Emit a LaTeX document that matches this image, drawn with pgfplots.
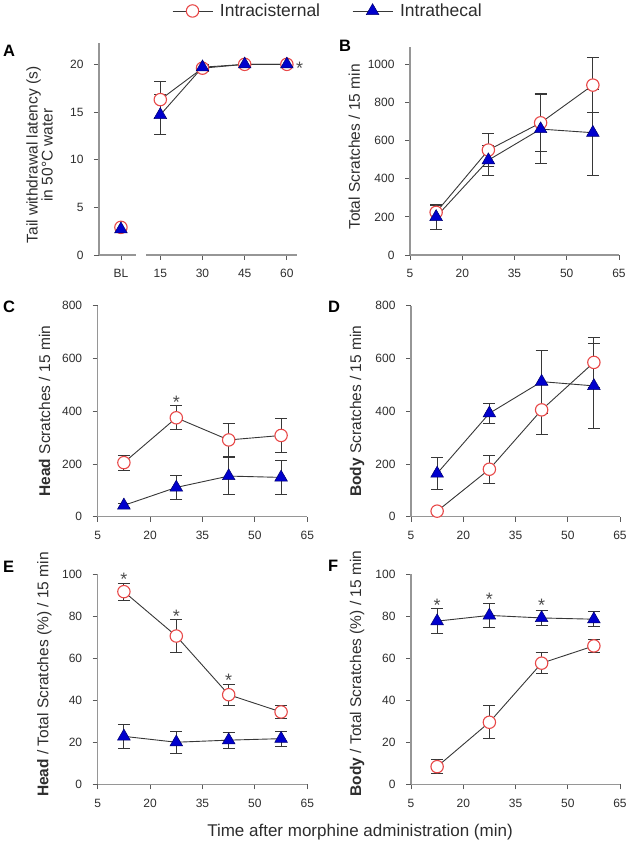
\documentclass[border=0pt]{standalone}
\usepackage{fontspec}
\setmainfont{Liberation Sans}
\usepackage{pgfplots}
\pgfplotsset{compat=1.18}
\definecolor{icred}{RGB}{232,72,72}
\definecolor{itblue}{RGB}{0,0,205}
\definecolor{itedge}{RGB}{0,0,110}
\definecolor{axgray}{RGB}{150,150,150}
\definecolor{tkgray}{RGB}{90,90,90}
\definecolor{txt}{RGB}{45,45,45}
\definecolor{ln}{RGB}{55,55,55}
\tikzset{astr/.style={font=\fontsize{18}{18}\selectfont, text=black!70, yshift=-3.8pt, inner sep=0pt}}
\pgfplotsset{
  panel/.style={
    scale only axis,
    axis lines=left,
    axis line style={-, draw=axgray, line width=1.1pt},
    tick align=outside,
    major tick length=5pt,
    tick style={draw=tkgray, line width=0.8pt},
    clip=false,
    /pgf/number format/assume math mode=true,
    /pgf/number format/1000 sep={},
    tick label style={font=\fontsize{12}{13}\selectfont, text=txt},
    xticklabel style={yshift=-6pt},
    yticklabel style={xshift=-7pt},
    every axis y label/.style={rotate=90, anchor=center, font=\fontsize{15.5}{15}\selectfont, text=txt,
      at={(axis description cs:-0.255,0.5)}},
    xmin=5, xmax=65, xtick={5,20,35,50,65},
    ymin=0,
  },
  errs/.style={
    error bars/y dir=both, error bars/y explicit,
    error bars/error bar style={draw=ln, line width=0.9pt},
    error bars/error mark options={rotate=90, mark size=6pt, draw=ln, line width=0.9pt}},
  icplot/.style={draw=ln, line width=0.9pt, mark=*,
    mark options={draw=icred, fill=white, line width=1.1pt, mark size=6.2pt, solid}, errs},
  itplot/.style={draw=ln, line width=0.9pt, mark=triangle*,
    mark options={draw=itedge, fill=itblue, line width=0.5pt, mark size=7.3pt, solid}, errs},
}
\begin{document}
\begin{tikzpicture}[x=1pt,y=1pt]
\useasboundingbox (0,0) rectangle (629,844);
% ---------- A ----------
\begin{axis}[panel, at={(99pt,589pt)}, anchor=south west, width=198pt, height=212pt,
  xmin=-6.8, xmax=63.6, xtick={1,15,30,45,60}, xticklabels={BL,15,30,45,60},
  ymax=22.24, ytick={0,5,10,15,20},
  x axis line style={draw=none},
  ylabel={Tail withdrawal latency (s)\\in 50°C water},
  ylabel style={align=center, at={(axis description cs:-0.3,0.472)}},
  legend columns=2,
  legend image code/.code={\draw[mark repeat=2,mark phase=2,#1] plot coordinates {(0pt,0pt) (20pt,0pt) (40pt,0pt)};},
  legend style={draw=none, fill=none, at={(axis description cs:0.368,1.151)}, anchor=west,
    font=\fontsize{17.5}{20}\selectfont, text=txt, inner sep=0pt,
    /tikz/every even column/.append style={column sep=30pt},
    /tikz/every odd column/.append style={column sep=5pt}},
]
\draw[axgray, line width=1.1pt] (axis cs:-6.8,0) -- (axis cs:6.4,0);
\draw[axgray, line width=1.1pt] (axis cs:10,0) -- (axis cs:63.6,0);
\addplot[icplot] coordinates {(15,16.3) +- (0,1.9) (30,19.6) +- (0,0.3) (45,20) +- (0,0) (60,20) +- (0,0)};
\addlegendentry{Intracisternal}
\addplot[itplot] coordinates {(15,14.7) +- (0,2.1) (30,19.7) +- (0,0.3) (45,20) +- (0,0) (60,20) +- (0,0)};
\addlegendentry{Intrathecal}
\addplot[icplot, only marks, forget plot] coordinates {(1,2.9) +- (0,0.3)};
\addplot[itplot, only marks, forget plot] coordinates {(1,2.7) +- (0,0.3)};
\node[astr] at (axis cs:64.5,20) {*};
\end{axis}
% ---------- B ----------
\begin{axis}[panel, at={(410pt,589pt)}, anchor=south west, width=209pt, height=208pt,
  ymax=1092, ytick={0,200,400,600,800,1000},
  ylabel={Total Scratches / 15 min},
  ylabel style={at={(axis description cs:-0.266,0.519)}},
]
\addplot[icplot] coordinates {(12.5,224) +- (0,35) (27.5,551) +- (0,87) (42.5,694) +- (0,152) (57.5,892) +- (0,145)};
\addplot[itplot] coordinates {(12.5,200) +- (0,65) (27.5,498) +- (0,78) (42.5,661) +- (0,183) (57.5,642) +- (0,226)};
\end{axis}
% ---------- C ----------
\begin{axis}[panel, at={(97.7pt,327.3pt)}, anchor=south west, width=209.6pt, height=211pt,
  ymax=800, ytick={0,200,400,600,800},
  ylabel={\textbf{Head} Scratches / 15 min},
  ylabel style={at={(axis description cs:-0.254,0.5)}},
]
\addplot[icplot] coordinates {(12.5,205) +- (0,28) (27.5,375) +- (0,46) (42.5,291) +- (0,63) (57.5,308) +- (0,66)};
\addplot[itplot] coordinates {(12.5,43) +- (0,8) (27.5,111) +- (0,47) (42.5,154) +- (0,70) (57.5,149) +- (0,65)};
\node[astr] at (axis cs:27.5,449) {*};
\end{axis}
% ---------- D ----------
\begin{axis}[panel, at={(411pt,327.3pt)}, anchor=south west, width=209pt, height=211pt,
  ymax=800, ytick={0,200,400,600,800},
  ylabel={\textbf{Body} Scratches / 15 min},
  ylabel style={at={(axis description cs:-0.258,0.5)}},
]
\addplot[icplot] coordinates {(12.5,21) +- (0,8) (27.5,180) +- (0,53) (42.5,405) +- (0,95) (57.5,585) +- (0,94)};
\addplot[itplot] coordinates {(12.5,164) +- (0,59) (27.5,392) +- (0,37) (42.5,512) +- (0,120) (57.5,496) +- (0,160)};
\end{axis}
% ---------- E ----------
\begin{axis}[panel, at={(97.7pt,59.7pt)}, anchor=south west, width=209.6pt, height=210.3pt,
  ymax=100, ytick={0,20,40,60,80,100},
  ylabel={\textbf{Head} / Total Scratches (\%) / 15 min},
  ylabel style={at={(axis description cs:-0.254,0.522)}},
]
\addplot[icplot] coordinates {(12.5,91.6) +- (0,4) (27.5,70.5) +- (0,7.7) (42.5,42.6) +- (0,4.9) (57.5,34.4) +- (0,3.3)};
\addplot[itplot] coordinates {(12.5,22.8) +- (0,5.8) (27.5,20.0) +- (0,5.3) (42.5,21.0) +- (0,3.8) (57.5,21.7) +- (0,3.5)};
\node[astr] at (axis cs:12.5,99.5) {*};
\node[astr] at (axis cs:27.5,81.8) {*};
\node[astr] at (axis cs:42.5,51.2) {*};
\end{axis}
% ---------- F ----------
\begin{axis}[panel, at={(411pt,59.7pt)}, anchor=south west, width=209pt, height=210.3pt,
  ymax=100, ytick={0,20,40,60,80,100},
  ylabel={\textbf{Body} / Total Scratches (\%) / 15 min},
  ylabel style={at={(axis description cs:-0.258,0.527)}},
]
\addplot[icplot] coordinates {(12.5,8.4) +- (0,3.4) (27.5,29.5) +- (0,7.8) (42.5,57.6) +- (0,4.9) (57.5,65.8) +- (0,3.3)};
\addplot[itplot] coordinates {(12.5,77.6) +- (0,5.8) (27.5,80.3) +- (0,5.5) (42.5,79.1) +- (0,3.8) (57.5,78.5) +- (0,3.5)};
\node[astr] at (axis cs:12.5,86.8) {*};
\node[astr] at (axis cs:27.5,90) {*};
\node[astr] at (axis cs:42.5,86.8) {*};
\end{axis}
% ---------- panel letters and shared label ----------
\begin{scope}[every node/.style={font=\bfseries\fontsize{16.5}{18}\selectfont, inner sep=0pt, anchor=west}]
\node at (3,793) {A};
\node at (339,798) {B};
\node at (3,537.5) {C};
\node at (328,537.5) {D};
\node at (3,277.5) {E};
\node at (328,278) {F};
\end{scope}
\node[font=\fontsize{17}{19}\selectfont, text=txt, anchor=base, inner sep=0pt] at (360,8) {Time after morphine administration (min)};
\end{tikzpicture}
\end{document}
